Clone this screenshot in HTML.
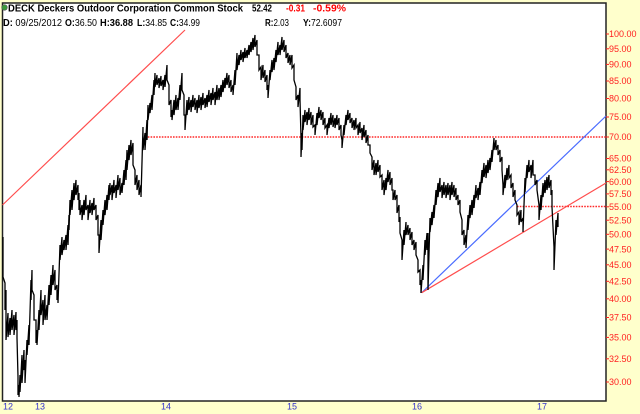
<!DOCTYPE html>
<html>
<head>
<meta charset="utf-8">
<style>
html,body{margin:0;padding:0;background:#FFFFCC;}
svg{display:block;}
text{font-family:"Liberation Sans",Arial,sans-serif;}
</style>
</head>
<body>
<svg width="640" height="414" viewBox="0 0 640 414" xmlns="http://www.w3.org/2000/svg">
<rect x="0" y="0" width="640" height="414" fill="#FFFFCC"/>
<rect x="2.5" y="3" width="603.5" height="398" fill="#ffffff" stroke="#222" stroke-width="1.5"/>

<!-- header -->
<circle cx="4.5" cy="7.5" r="2.8" fill="#3c9a3c" stroke="#555" stroke-width="0.6"/>
<text x="8" y="11.5" font-size="10.5" font-weight="bold" fill="#000" textLength="235" lengthAdjust="spacingAndGlyphs">DECK Deckers Outdoor Corporation Common Stock</text>
<text x="252" y="11.5" font-size="10.5" font-weight="bold" fill="#000" textLength="20" lengthAdjust="spacingAndGlyphs">52.42</text>
<text x="286" y="11.5" font-size="10.5" font-weight="bold" fill="#ff0000" textLength="19" lengthAdjust="spacingAndGlyphs">-0.31</text>
<text x="313" y="11.5" font-size="10.5" font-weight="bold" fill="#ff0000" textLength="33" lengthAdjust="spacingAndGlyphs">-0.59%</text>

<text x="3" y="26" font-size="10.5" fill="#000" textLength="59" lengthAdjust="spacingAndGlyphs"><tspan font-weight="bold">D:</tspan> 09/25/2012</text>
<text x="65" y="26" font-size="10.5" fill="#000" textLength="32" lengthAdjust="spacingAndGlyphs"><tspan font-weight="bold">O:</tspan>36.50</text>
<text x="100" y="26" font-size="10.5" font-weight="bold" fill="#000" textLength="33" lengthAdjust="spacingAndGlyphs">H:36.88</text>
<text x="137" y="26" font-size="10.5" fill="#000" textLength="30" lengthAdjust="spacingAndGlyphs"><tspan font-weight="bold">L:</tspan>34.85</text>
<text x="170" y="26" font-size="10.5" fill="#000" textLength="30" lengthAdjust="spacingAndGlyphs"><tspan font-weight="bold">C:</tspan>34.99</text>
<text x="265" y="26" font-size="10.5" fill="#000" textLength="24" lengthAdjust="spacingAndGlyphs"><tspan font-weight="bold">R:</tspan>2.03</text>
<text x="303" y="26" font-size="10.5" fill="#000" textLength="39" lengthAdjust="spacingAndGlyphs"><tspan font-weight="bold">Y:</tspan>72.6097</text>

<!-- dotted horizontal lines -->
<line x1="145" y1="137" x2="606" y2="137" stroke="#ff2a2a" stroke-width="1.4" stroke-dasharray="1.6,1.2"/>
<line x1="517" y1="206.5" x2="606" y2="206.5" stroke="#ff2a2a" stroke-width="1.4" stroke-dasharray="1.6,1.2"/>

<!-- trend lines -->
<line x1="2.5" y1="205" x2="185" y2="30" stroke="#ff4d4d" stroke-width="1.2"/>
<line x1="421.7" y1="292.7" x2="606" y2="116" stroke="#4a6cff" stroke-width="1.2"/>
<line x1="421.7" y1="292.7" x2="606" y2="183" stroke="#ff4d4d" stroke-width="1.2"/>

<!-- price bars -->
<polyline fill="none" stroke="#000" stroke-width="1.3" stroke-linejoin="miter" points="
3,237 3,277 5,283 5,310 6,290 6,340 8,313 8,337 10,318 10,335 12,310 12,330 14,315 14,335 16,312 16,330 17,320 17,338
18,377 18,395 19,385 19,397 20,375 20,392 22,355 22,383 24,350 24,370 25,360 25,383 27,340 27,355 29,325 29,345
31,280 31,300 32,270 32,290 34,295 34,320 36,320 36,343 37,330 37,345 39,310 39,330 41,290 41,315 43,300 43,325
45,295 45,320 47,305 47,320 49,285 49,305 51,275 51,295 53,265 53,285 55,270 55,290 57,285 57,300 58,290 58,303
60,245 60,260 62,237 62,255 64,240 64,250 66,235 66,250 68,225 68,245 69,215 69,230 70,200 70,215 72,190 72,210
74,183 74,200 76,180 76,195 78,185 78,200 79,193 79,210 80,200 80,215 82,205 82,220 84,200 84,215 86,195 86,210
88,205 88,220 90,200 90,213 92,203 92,215 94,198 94,210 96,205 96,220 98,215 98,235 99,235 99,253 101,220 101,240
103,210 103,225 105,200 105,215 107,195 107,210 109,185 109,200 110,183 110,195 112,185 112,200 114,180 114,193
116,185 116,198 118,175 118,190 120,178 120,195 122,183 122,193 124,170 124,185 126,160 126,180 127,150 127,170
129,145 129,160 131,140 131,155 133,143 133,165 135,170 135,185 137,175 137,190 139,180 139,195 141,185 141,197
143,127 143,150 145,133 145,150 147,120 147,140 148,105 148,120 150,103 150,113 152,95 152,110 154,80 154,95
155,73 155,87 157,75 157,85 159,78 159,88 161,76 161,86 163,80 163,90 165,75 165,87 167,65 167,80 169,85 169,105
171,100 171,117 172,110 172,120 174,100 174,115 176,95 176,110 178,98 178,110 180,85 180,100 182,73 182,90
184,95 184,115 185,115 185,130 187,100 187,115 189,97 189,110 191,100 191,112 193,95 193,107 195,98 195,110
197,100 197,113 199,95 199,108 201,97 201,110 203,93 203,105 205,98 205,108 207,95 207,107 209,90 209,102
211,93 211,105 213,88 213,100 215,92 215,105 217,85 217,100 219,88 219,100 221,85 221,97 223,80 223,92
225,78 225,88 227,73 227,85 229,75 229,88 231,80 231,92 233,85 233,95 235,70 235,85 237,53 237,70 239,55 239,65
241,50 241,60 243,52 243,62 245,48 245,58 247,50 247,58 249,45 249,55 251,42 251,52 253,38 253,50 255,35 255,47
257,40 257,55 259,55 259,70 261,67 261,80 263,65 263,78 265,70 265,82 267,75 267,90 268,85 268,98 270,70 270,80
272,60 272,72 274,58 274,70 276,50 276,62 278,42 278,55 280,45 280,55 282,37 282,50 284,40 284,52 286,45 286,58
288,53 288,63 290,55 290,65 292,55 292,68 294,65 294,80 296,87 296,100 298,95 298,107 300,88 300,100
301,137 301,157 302,133 302,150 303,115 303,130 305,110 305,122 307,112 307,125 309,108 309,120 311,112 311,125
313,115 313,127 315,125 315,135 317,113 317,125 319,107 319,118 321,110 321,120 323,112 323,125 325,118 325,128
327,125 327,135 329,118 329,128 331,113 331,125 333,115 333,127 335,118 335,128 337,115 337,125 339,118 339,130
341,125 341,135 342,140 342,148 344,125 344,135 346,115 346,125 348,110 348,120 350,113 350,123 352,118 352,128
354,120 354,130 356,118 356,128 358,125 358,135 360,122 360,133 362,128 362,140 364,125 364,137 366,130 366,143
368,135 368,145 370,145 370,153 372,157 372,170 374,160 374,175 376,163 376,175 378,160 378,172 380,165 380,177
382,175 382,190 384,180 384,195 386,178 386,190 388,170 388,182 390,172 390,185 392,178 392,190 393,190 393,200
395,190 395,200 397,195 397,213 399,205 399,222 400,217 400,233 402,240 402,260 404,230 404,245 406,222 406,235
408,225 408,235 410,228 410,240 412,232 412,245 414,240 414,250 416,242 416,255 418,260 418,272 420,270 420,285
421,280 421,293 423,265 423,280 425,240 425,255 427,233 427,250 428,233 428,290 430,218 430,232 432,212 432,225
434,205 434,218 436,190 436,205 438,183 438,197 440,178 440,192 442,185 442,198 444,182 444,195 446,185 446,198
448,183 448,195 450,185 450,200 452,182 452,195 454,185 454,197 456,188 456,200 458,195 458,205 460,200 460,212
462,220 462,235 464,230 464,245 466,235 466,248 468,215 468,230 470,205 470,218 472,200 472,215 474,195 474,208
476,185 476,198 478,188 478,200 480,182 480,195 482,170 482,183 484,163 484,177 486,165 486,178 488,160 488,173
490,158 490,170 492,150 492,162 494,138 494,150 496,140 496,150 498,145 498,155 500,150 500,162 502,157 502,170
503,185 503,195 505,175 505,188 507,168 507,180 509,165 509,178 511,175 511,188 513,183 513,197 515,190 515,200
517,205 517,215 519,212 519,225 521,210 521,222 523,218 523,232 525,178 525,192 527,165 527,178 529,160 529,172
531,165 531,178 533,160 533,175 535,175 535,185 537,180 537,190 539,205 539,220 541,195 541,210 543,183 543,197
545,180 545,193 547,177 547,190 549,175 549,188 551,180 551,195 552,190 552,207 554,247 554,270 556,220 556,235
558,213 558,227"/>

<!-- y axis ticks and labels -->
<g stroke="#ff2020" stroke-width="1">
<line x1="606" y1="34" x2="609" y2="34"/>
<line x1="606" y1="48.8" x2="609" y2="48.8"/>
<line x1="606" y1="64.4" x2="609" y2="64.4"/>
<line x1="606" y1="81" x2="609" y2="81"/>
<line x1="606" y1="98.5" x2="609" y2="98.5"/>
<line x1="606" y1="117" x2="609" y2="117"/>
<line x1="606" y1="137" x2="609" y2="137"/>
<line x1="606" y1="158.5" x2="609" y2="158.5"/>
<line x1="606" y1="169.8" x2="609" y2="169.8"/>
<line x1="606" y1="181.6" x2="609" y2="181.6"/>
<line x1="606" y1="193.9" x2="609" y2="193.9"/>
<line x1="606" y1="206.8" x2="609" y2="206.8"/>
<line x1="606" y1="220.2" x2="609" y2="220.2"/>
<line x1="606" y1="234.3" x2="609" y2="234.3"/>
<line x1="606" y1="249.1" x2="609" y2="249.1"/>
<line x1="606" y1="264.8" x2="609" y2="264.8"/>
<line x1="606" y1="281.3" x2="609" y2="281.3"/>
<line x1="606" y1="298.8" x2="609" y2="298.8"/>
<line x1="606" y1="317.5" x2="609" y2="317.5"/>
<line x1="606" y1="337.4" x2="609" y2="337.4"/>
<line x1="606" y1="358.8" x2="609" y2="358.8"/>
<line x1="606" y1="382" x2="609" y2="382"/>
</g>
<g font-size="9" fill="#ff2020">
<text x="609" y="37.2">100.00</text>
<text x="609" y="52">95.00</text>
<text x="609" y="67.6">90.00</text>
<text x="609" y="84.2">85.00</text>
<text x="609" y="101.7">80.00</text>
<text x="609" y="120.2">75.00</text>
<text x="609" y="140.2">70.00</text>
<text x="609" y="161.7">65.00</text>
<text x="609" y="173">62.50</text>
<text x="609" y="184.8">60.00</text>
<text x="609" y="197.1">57.50</text>
<text x="609" y="210">55.00</text>
<text x="609" y="223.4">52.50</text>
<text x="609" y="237.5">50.00</text>
<text x="609" y="252.3">47.50</text>
<text x="609" y="268">45.00</text>
<text x="609" y="284.5">42.50</text>
<text x="609" y="302">40.00</text>
<text x="609" y="320.7">37.50</text>
<text x="609" y="340.6">35.00</text>
<text x="609" y="362">32.50</text>
<text x="609" y="385.2">30.00</text>
</g>

<!-- x axis labels -->
<g font-size="9" fill="#3333cc">
<text x="3" y="409.5">12</text>
<text x="35" y="409.5">13</text>
<text x="161" y="409.5">14</text>
<text x="287" y="409.5">15</text>
<text x="412" y="409.5">16</text>
<text x="537" y="409.5">17</text>
</g>
</svg>
</body>
</html>
